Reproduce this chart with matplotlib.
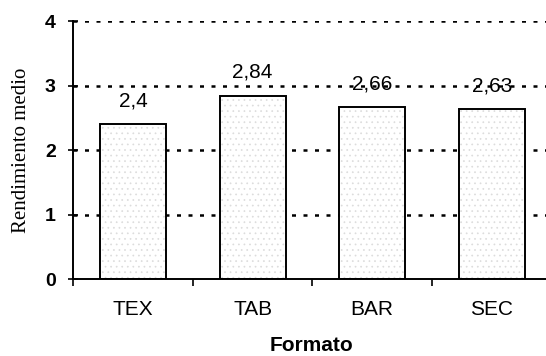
import matplotlib
matplotlib.use("Agg")
import matplotlib.pyplot as plt

# rendimiento medio por formato
formatos = ["TEX", "TAB", "BAR", "SEC"]
rendimiento = [2.4, 2.84, 2.66, 2.63]
etiquetas = ["2,4", "2,84", "2,66", "2,63"]

plt.rcParams["hatch.linewidth"] = 0.5

fig = plt.figure(figsize=(5.46, 3.56), dpi=100)
ax = fig.add_axes([0.134, 0.216, 0.872, 0.725])

x = list(range(len(formatos)))

# gridlines first so bars cover them
for yv in [1, 2, 3, 4]:
    ax.axhline(yv, color="black", lw=1.8, ls=(0, (1.6, 3.0)), zorder=1)

# stippled fill, then black outline on top
ax.bar(x, rendimiento, width=0.55, color="white", edgecolor="#dcdcdc",
       hatch="...", lw=0, zorder=2)
ax.bar(x, rendimiento, width=0.55, fill=False, edgecolor="black", lw=1.4, zorder=3)

for xi, v, s in zip(x, rendimiento, etiquetas):
    ax.annotate(s, xy=(xi, v), xytext=(0, 13), textcoords="offset points",
                ha="center", va="baseline", fontsize=15, family="Liberation Sans",
                zorder=4)

ax.set_xlim(-0.5, 3.48)
ax.set_ylim(0, 4)

ax.spines["top"].set_visible(False)
ax.spines["right"].set_visible(False)
ax.spines["left"].set_linewidth(1.4)
ax.spines["bottom"].set_linewidth(1.4)

ax.set_yticks([0, 1, 2, 3, 4])
ax.set_yticklabels(["0", "1", "2", "3", "4"], fontsize=14, fontweight="bold",
                   family="Liberation Sans")
ax.tick_params(axis="y", direction="inout", length=7, width=1.2, pad=9)

# category labels centred, ticks between categories
ax.set_xticks([-0.5, 0.5, 1.5, 2.5])
ax.set_xticklabels([])
ax.set_xticks(x, minor=True)
ax.set_xticklabels(formatos, minor=True, fontsize=15, family="Liberation Sans")
ax.tick_params(axis="x", which="major", direction="out", length=5, width=1.2)
ax.tick_params(axis="x", which="minor", length=0, pad=15)

ax.set_xlabel("Formato", fontsize=15, fontweight="bold", family="Liberation Sans",
              labelpad=12)
ax.set_ylabel("Rendimiento medio", fontsize=15, family="Liberation Serif", labelpad=10)

fig.savefig("out.png", dpi=100)
